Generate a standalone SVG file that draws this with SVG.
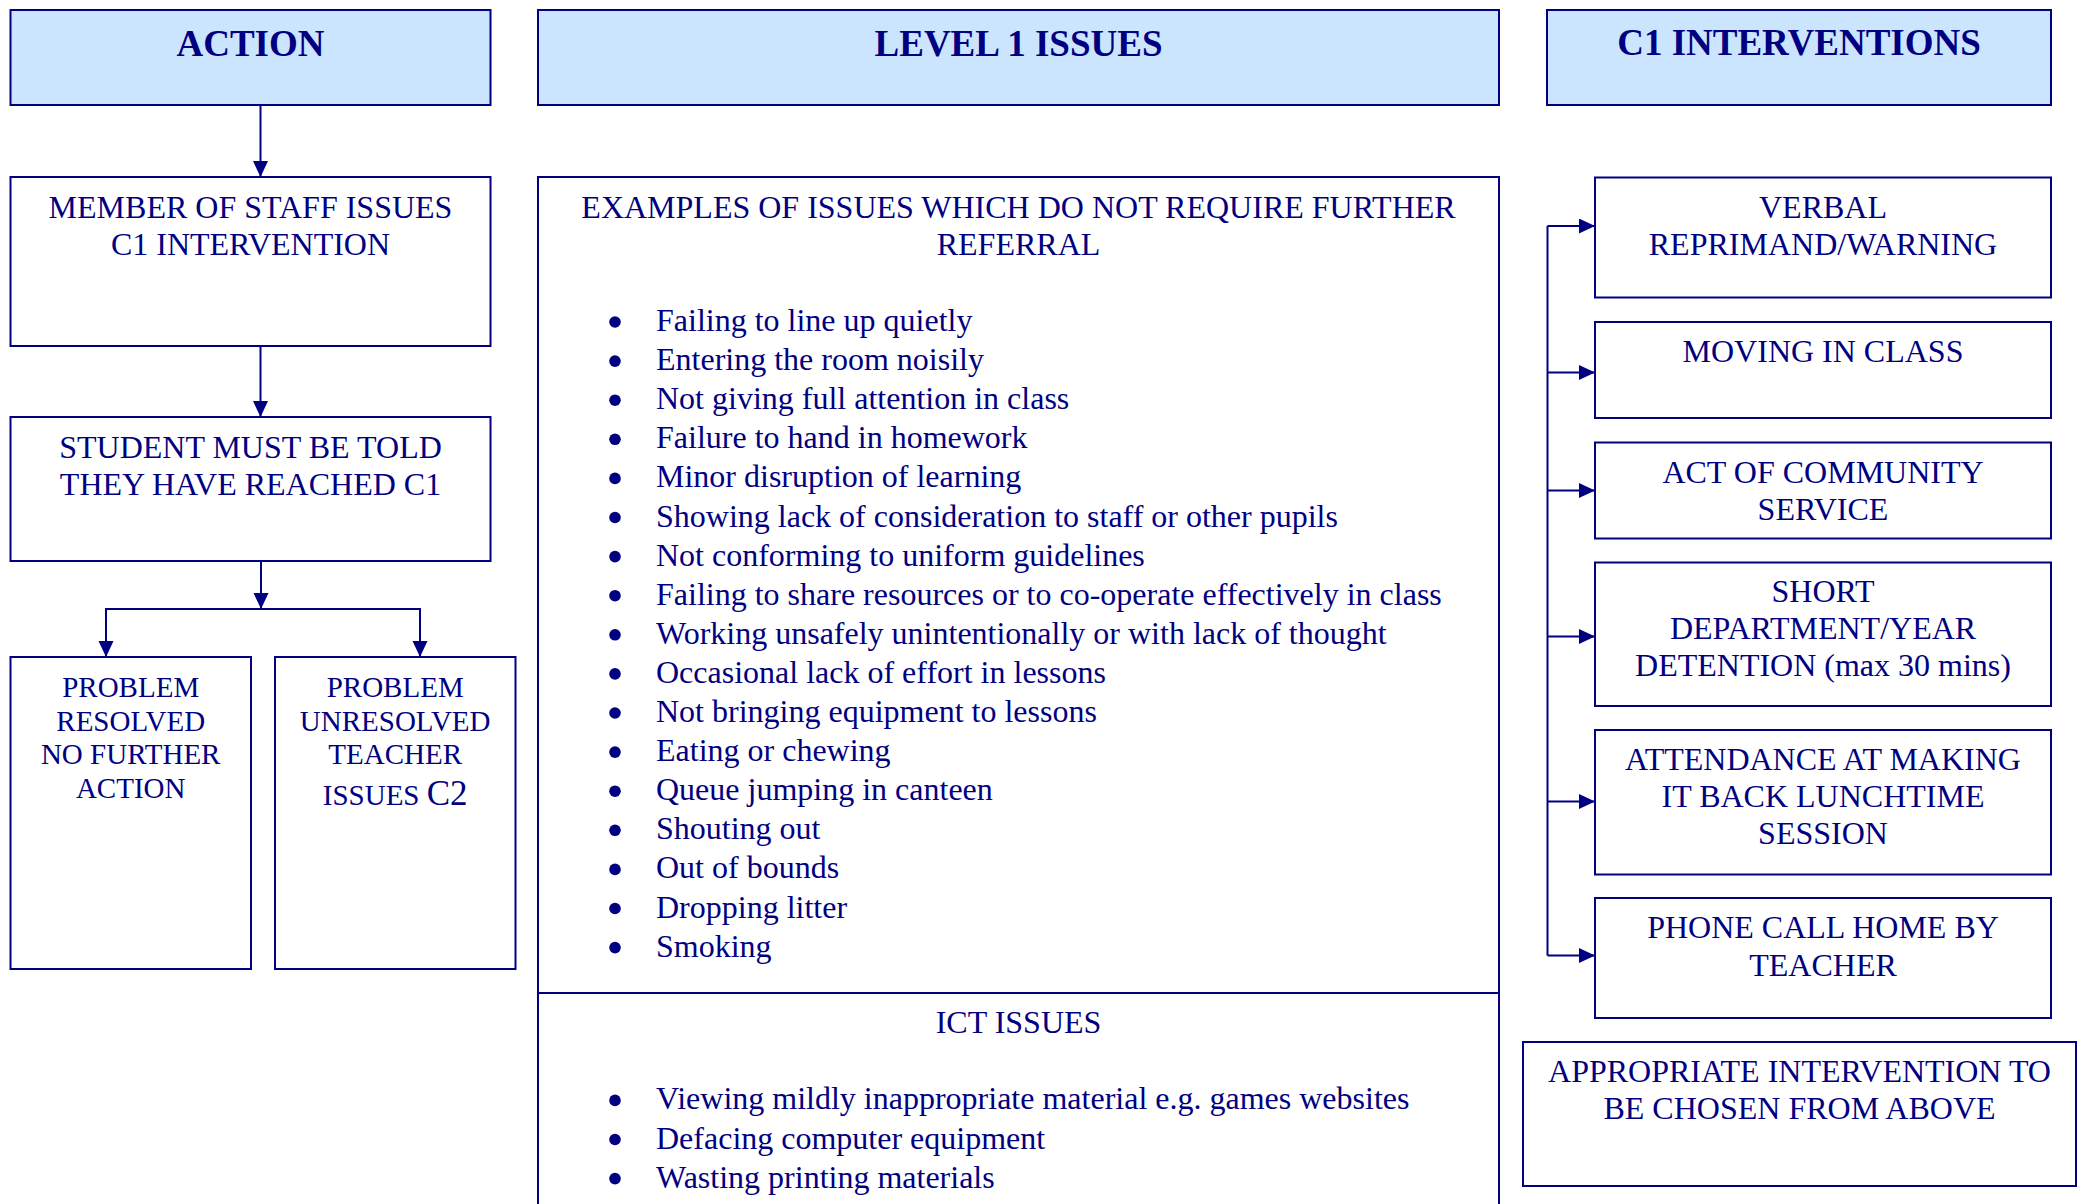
<svg xmlns="http://www.w3.org/2000/svg" width="2084" height="1204" viewBox="0 0 2084 1204">
<style>
.box{fill:#ffffff;stroke:#000080;stroke-width:2}
.hdr{fill:#CCE5FF;stroke:#000080;stroke-width:2}
.ht{font-family:"Liberation Serif","Times New Roman",serif;font-weight:bold;font-size:37px;fill:#000080;text-anchor:middle}
.t{font-family:"Liberation Serif","Times New Roman",serif;font-size:32px;fill:#000080;text-anchor:middle}
.ts{font-family:"Liberation Serif","Times New Roman",serif;font-size:29px;fill:#000080;text-anchor:middle}
.li{font-family:"Liberation Serif","Times New Roman",serif;font-size:32px;fill:#000080}
.bul{fill:#000080}
.con{fill:none;stroke:#000080;stroke-width:2}
</style>
<defs>
<marker id="ah" markerUnits="userSpaceOnUse" markerWidth="16" markerHeight="16" refX="16" refY="7.5" orient="auto">
<path d="M0,0 L16,7.5 L0,15 Z" fill="#000080"/>
</marker>
</defs>
<rect width="2084" height="1204" fill="#ffffff"/>

<g id="hdr-action">
<rect class="hdr" x="10.5" y="10" width="480" height="95"/>
<text class="ht" x="250.5" y="56">ACTION</text>
</g>
<g id="hdr-level1">
<rect class="hdr" x="538" y="10" width="961" height="95"/>
<text class="ht" x="1018.5" y="56">LEVEL 1 ISSUES</text>
</g>
<g id="hdr-c1">
<rect class="hdr" x="1547" y="10" width="504" height="95"/>
<text class="ht" x="1799" y="55">C1 INTERVENTIONS</text>
</g>

<g id="member-staff">
<rect class="box" x="10.5" y="177" width="480" height="169"/>
<text class="t" x="250.5" y="218"><tspan x="250.5">MEMBER OF STAFF ISSUES</tspan><tspan x="250.5" dy="37">C1 INTERVENTION</tspan></text>
</g>
<g id="student-told">
<rect class="box" x="10.5" y="417" width="480" height="144"/>
<text class="t" x="250.5" y="458"><tspan x="250.5">STUDENT MUST BE TOLD</tspan><tspan x="250.5" dy="37">THEY HAVE REACHED C1</tspan></text>
</g>
<g id="problem-resolved">
<rect class="box" x="10.5" y="657" width="240.5" height="312"/>
<text class="ts" x="130.7" y="697"><tspan x="130.7">PROBLEM</tspan><tspan x="130.7" dy="33.5">RESOLVED</tspan><tspan x="130.7" dy="33.5">NO FURTHER</tspan><tspan x="130.7" dy="33.5">ACTION</tspan></text>
</g>
<g id="problem-unresolved">
<rect class="box" x="275" y="657" width="240.5" height="312"/>
<text class="ts" x="395.2" y="697"><tspan x="395.2">PROBLEM</tspan><tspan x="395.2" dy="33.5">UNRESOLVED</tspan><tspan x="395.2" dy="33.5">TEACHER</tspan><tspan x="395.2" dy="41">ISSUES <tspan font-size="35px">C2</tspan></tspan></text>
</g>

<g id="level1-issues">
<rect class="box" x="538" y="177" width="961" height="1100"/>
<line class="con" x1="538" y1="993" x2="1499" y2="993"/>
<text class="t" x="1018.5" y="218"><tspan x="1018.5">EXAMPLES OF ISSUES WHICH DO NOT REQUIRE FURTHER</tspan><tspan x="1018.5" dy="36.5">REFERRAL</tspan></text>
<g class="bul">
<circle cx="615" cy="322" r="5.8"/><circle cx="615" cy="361.1" r="5.8"/><circle cx="615" cy="400.2" r="5.8"/><circle cx="615" cy="439.3" r="5.8"/><circle cx="615" cy="478.4" r="5.8"/><circle cx="615" cy="517.5" r="5.8"/><circle cx="615" cy="556.6" r="5.8"/><circle cx="615" cy="595.7" r="5.8"/><circle cx="615" cy="634.8" r="5.8"/><circle cx="615" cy="673.9" r="5.8"/><circle cx="615" cy="713" r="5.8"/><circle cx="615" cy="752.1" r="5.8"/><circle cx="615" cy="791.2" r="5.8"/><circle cx="615" cy="830.3" r="5.8"/><circle cx="615" cy="869.4" r="5.8"/><circle cx="615" cy="908.5" r="5.8"/><circle cx="615" cy="947.6" r="5.8"/>
</g>
<text class="li" x="656" y="331">
<tspan x="656" y="331">Failing to line up quietly</tspan>
<tspan x="656" y="370.1">Entering the room noisily</tspan>
<tspan x="656" y="409.2">Not giving full attention in class</tspan>
<tspan x="656" y="448.3">Failure to hand in homework</tspan>
<tspan x="656" y="487.4">Minor disruption of learning</tspan>
<tspan x="656" y="526.5">Showing lack of consideration to staff or other pupils</tspan>
<tspan x="656" y="565.6">Not conforming to uniform guidelines</tspan>
<tspan x="656" y="604.7">Failing to share resources or to co-operate effectively in class</tspan>
<tspan x="656" y="643.8">Working unsafely unintentionally or with lack of thought</tspan>
<tspan x="656" y="682.9">Occasional lack of effort in lessons</tspan>
<tspan x="656" y="722">Not bringing equipment to lessons</tspan>
<tspan x="656" y="761.1">Eating or chewing</tspan>
<tspan x="656" y="800.2">Queue jumping in canteen</tspan>
<tspan x="656" y="839.3">Shouting out</tspan>
<tspan x="656" y="878.4">Out of bounds</tspan>
<tspan x="656" y="917.5">Dropping litter</tspan>
<tspan x="656" y="956.6">Smoking</tspan>
</text>
<text class="t" x="1018.5" y="1033">ICT ISSUES</text>
<g class="bul">
<circle cx="615" cy="1100.4" r="5.8"/><circle cx="615" cy="1139.5" r="5.8"/><circle cx="615" cy="1178.6" r="5.8"/>
</g>
<text class="li" x="656" y="1109.4">
<tspan x="656" y="1109.4">Viewing mildly inappropriate material e.g. games websites</tspan>
<tspan x="656" y="1148.5">Defacing computer equipment</tspan>
<tspan x="656" y="1187.6">Wasting printing materials</tspan>
</text>
</g>

<g id="verbal">
<rect class="box" x="1595" y="177.5" width="456" height="120"/>
<text class="t" x="1823" y="218"><tspan x="1823">VERBAL</tspan><tspan x="1823" dy="37">REPRIMAND/WARNING</tspan></text>
</g>
<g id="moving">
<rect class="box" x="1595" y="322" width="456" height="96"/>
<text class="t" x="1823" y="362">MOVING IN CLASS</text>
</g>
<g id="community">
<rect class="box" x="1595" y="442.5" width="456" height="96"/>
<text class="t" x="1823" y="482.5"><tspan x="1823">ACT OF COMMUNITY</tspan><tspan x="1823" dy="37">SERVICE</tspan></text>
</g>
<g id="detention">
<rect class="box" x="1595" y="562.5" width="456" height="143.5"/>
<text class="t" x="1823" y="601.5"><tspan x="1823">SHORT</tspan><tspan x="1823" dy="37.2">DEPARTMENT/YEAR</tspan><tspan x="1823" dy="37.2">DETENTION (max 30 mins)</tspan></text>
</g>
<g id="making-it-back">
<rect class="box" x="1595" y="730" width="456" height="144.5"/>
<text class="t" x="1823" y="769.5"><tspan x="1823">ATTENDANCE AT MAKING</tspan><tspan x="1823" dy="37.2">IT BACK LUNCHTIME</tspan><tspan x="1823" dy="37.2">SESSION</tspan></text>
</g>
<g id="phone-call">
<rect class="box" x="1595" y="898" width="456" height="120"/>
<text class="t" x="1823" y="938"><tspan x="1823">PHONE CALL HOME BY</tspan><tspan x="1823" dy="37.5">TEACHER</tspan></text>
</g>
<g id="appropriate">
<rect class="box" x="1523" y="1042" width="553" height="144"/>
<text class="t" x="1799.5" y="1081.5"><tspan x="1799.5">APPROPRIATE INTERVENTION TO</tspan><tspan x="1799.5" dy="37.8">BE CHOSEN FROM ABOVE</tspan></text>
</g>

<g id="connectors">
<line class="con" x1="260.5" y1="105" x2="260.5" y2="177" marker-end="url(#ah)"/>
<line class="con" x1="260.5" y1="346" x2="260.5" y2="417" marker-end="url(#ah)"/>
<line class="con" x1="261" y1="561" x2="261" y2="609" marker-end="url(#ah)"/>
<polyline class="con" points="106,657 106,609 420,609 420,657"/>
<line class="con" x1="106" y1="609" x2="106" y2="657" marker-end="url(#ah)"/>
<line class="con" x1="420" y1="609" x2="420" y2="657" marker-end="url(#ah)"/>
<line class="con" x1="1547.5" y1="226" x2="1547.5" y2="955.5"/>
<line class="con" x1="1547.5" y1="226" x2="1595" y2="226" marker-end="url(#ah)"/>
<line class="con" x1="1547.5" y1="372.5" x2="1595" y2="372.5" marker-end="url(#ah)"/>
<line class="con" x1="1547.5" y1="490.5" x2="1595" y2="490.5" marker-end="url(#ah)"/>
<line class="con" x1="1547.5" y1="636.5" x2="1595" y2="636.5" marker-end="url(#ah)"/>
<line class="con" x1="1547.5" y1="801.5" x2="1595" y2="801.5" marker-end="url(#ah)"/>
<line class="con" x1="1547.5" y1="955.5" x2="1595" y2="955.5" marker-end="url(#ah)"/>
</g>
</svg>
